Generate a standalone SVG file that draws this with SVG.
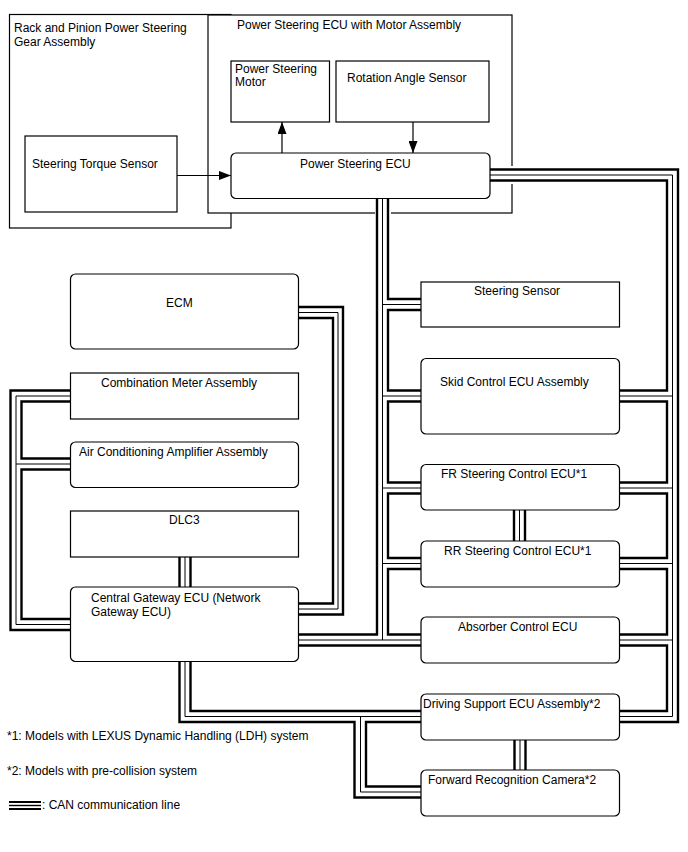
<svg xmlns="http://www.w3.org/2000/svg" width="688" height="852" viewBox="0 0 688 852">
<style>
text { font-family: "Liberation Sans", Arial, sans-serif; font-size: 12px; fill: #000; }
.box { fill: #fff; stroke: #000; stroke-width: 1.2; }
.ct { fill: none; stroke: #000; stroke-width: 2.4; }
.cn { fill: none; stroke: #000; stroke-width: 1; }
.arr { fill: none; stroke: #000; stroke-width: 1.2; marker-end: url(#ah); }
.gap { fill: #fff; stroke: none; }
</style>
<defs>
<marker id="ah" markerUnits="userSpaceOnUse" markerWidth="12" markerHeight="9" refX="12" refY="4.5" orient="auto"><path d="M0,0 L12,4.5 L0,9 z" fill="#000"/></marker>
</defs>
<rect x="0" y="0" width="688" height="852" fill="#fff"/>

<g id="rack-pinion-gear-assembly">
<rect class="box" x="9.5" y="14.5" width="221.5" height="213.5"/>
<text x="14" y="32">Rack and Pinion Power Steering</text>
<text x="14" y="46">Gear Assembly</text>
</g>
<g id="ps-ecu-motor-assembly">
<rect class="box" x="208" y="15" width="304" height="198"/>
<text x="237" y="29">Power Steering ECU with Motor Assembly</text>
</g>
<g id="steering-torque-sensor">
<rect class="box" x="25" y="136" width="152" height="76"/>
<text x="32" y="168">Steering Torque Sensor</text>
</g>
<g id="power-steering-motor">
<rect class="box" x="231" y="61" width="98.5" height="61"/>
<text x="235" y="72.5">Power Steering</text>
<text x="235" y="86">Motor</text>
</g>
<g id="rotation-angle-sensor">
<rect class="box" x="336" y="61" width="153" height="61"/>
<text x="347" y="82">Rotation Angle Sensor</text>
</g>
<g id="power-steering-ecu">
<rect class="box" x="231" y="153" width="259" height="45.5" rx="5"/>
<text x="300" y="168">Power Steering ECU</text>
</g>

<g id="arrows">
<line class="arr" x1="177" y1="175.5" x2="231" y2="175.5"/>
<line class="arr" x1="282" y1="153" x2="282" y2="122"/>
<line class="arr" x1="413" y1="122" x2="413" y2="153"/>
</g>

<g id="can-lines">
<rect class="gap" x="507" y="166" width="10" height="18"/>
<rect class="gap" x="375" y="209" width="16" height="8"/>
<!-- right column, left bus -->
<path class="ct" d="M377,198.5 V634.5 H299"/>
<path class="ct" d="M388,198.5 V299 H421"/>
<path class="ct" d="M421,310 H388 V390.5 H421"/>
<path class="ct" d="M421,401.5 H388 V482.5 H421"/>
<path class="ct" d="M421,493.5 H388 V558 H421"/>
<path class="ct" d="M421,569 H388 V634.5 H421"/>
<path class="ct" d="M299,645.5 H421"/>
<path class="cn" d="M382.5,198.5 V640 M299,640 H421 M382.5,304.5 H421 M382.5,396 H421 M382.5,488 H421 M382.5,563.5 H421"/>
<!-- right column, right bus -->
<path class="ct" d="M490,169.5 H678 V722 H620"/>
<path class="ct" d="M490,180.5 H667 V390.5 H620"/>
<path class="ct" d="M620,401.5 H667 V482.5 H620"/>
<path class="ct" d="M620,493.5 H667 V558 H620"/>
<path class="ct" d="M620,569 H667 V634.5 H620"/>
<path class="ct" d="M620,645.5 H667 V711 H620"/>
<path class="cn" d="M490,175 H672.5 V716.5 H620 M672.5,396 H620 M672.5,488 H620 M672.5,563.5 H620 M672.5,640 H620"/>
<!-- FR - RR -->
<path class="ct" d="M514,510 V541 M525,510 V541"/>
<path class="cn" d="M519.5,510 V541"/>
<!-- left bus -->
<path class="ct" d="M70,390.5 H10.5 V630 H70"/>
<path class="ct" d="M70,401.5 H21.5 V458.5 H70"/>
<path class="ct" d="M70,469.5 H21.5 V619 H70"/>
<path class="cn" d="M70,396 H16 V624.5 H70 M16,464 H70"/>
<!-- ECM - CG -->
<path class="ct" d="M299,307 H343 V614.5 H299"/>
<path class="ct" d="M299,318 H333 V603.5 H299"/>
<path class="cn" d="M299,312.5 H338 V609 H299"/>
<!-- DLC3 - CG -->
<path class="ct" d="M179.5,557 V587 M190.5,557 V587"/>
<path class="cn" d="M185,557 V587"/>
<!-- CG - DS - FRC -->
<path class="ct" d="M179.5,661.5 V722 H354.5 V797.5 H421"/>
<path class="ct" d="M190.5,661.5 V711 H421"/>
<path class="ct" d="M421,722 H366 V786.5 H421"/>
<path class="cn" d="M185,661.5 V716.5 H421 M360.5,716.5 V792 H421"/>
<!-- DS - FRC -->
<path class="ct" d="M514.5,740 V770 M525.5,740 V770"/>
<path class="cn" d="M520,740 V770"/>
</g>

<g id="ecm">
<rect class="box" x="70.5" y="274" width="228" height="75" rx="5"/>
<text x="166" y="307">ECM</text>
</g>
<g id="combination-meter">
<rect class="box" x="70.5" y="373" width="228" height="46"/>
<text x="101" y="387">Combination Meter Assembly</text>
</g>
<g id="ac-amplifier">
<rect class="box" x="70.5" y="442" width="228" height="45.5" rx="5"/>
<text x="79" y="456">Air Conditioning Amplifier Assembly</text>
</g>
<g id="dlc3">
<rect class="box" x="70.5" y="511" width="228" height="46"/>
<text x="169" y="524">DLC3</text>
</g>
<g id="central-gateway-ecu">
<rect class="box" x="70.5" y="587" width="228" height="74.5" rx="5"/>
<text x="91" y="602">Central Gateway ECU (Network</text>
<text x="91" y="616">Gateway ECU)</text>
</g>

<g id="steering-sensor">
<rect class="box" x="421" y="282" width="198.5" height="45"/>
<text x="474" y="295">Steering Sensor</text>
</g>
<g id="skid-control-ecu">
<rect class="box" x="421" y="358.5" width="198.5" height="75.5" rx="5"/>
<text x="440" y="386">Skid Control ECU Assembly</text>
</g>
<g id="fr-steering-control-ecu">
<rect class="box" x="421" y="464.5" width="198.5" height="45.5" rx="5"/>
<text x="441" y="478">FR Steering Control ECU*1</text>
</g>
<g id="rr-steering-control-ecu">
<rect class="box" x="421" y="541" width="198.5" height="46" rx="5"/>
<text x="444" y="555">RR Steering Control ECU*1</text>
</g>
<g id="absorber-control-ecu">
<rect class="box" x="421" y="617" width="198.5" height="46" rx="5"/>
<text x="458" y="631">Absorber Control ECU</text>
</g>
<g id="driving-support-ecu">
<rect class="box" x="421" y="694" width="198.5" height="46" rx="5"/>
<text x="423" y="708">Driving Support ECU Assembly*2</text>
</g>
<g id="forward-recognition-camera">
<rect class="box" x="421" y="770" width="198.5" height="46" rx="5"/>
<text x="428" y="784">Forward Recognition Camera*2</text>
</g>

<g id="notes">
<text x="7" y="740">*1: Models with LEXUS Dynamic Handling (LDH) system</text>
<text x="7" y="775">*2: Models with pre-collision system</text>
<path d="M9,802 H41 M9,809 H41" stroke="#000" stroke-width="2.2" fill="none"/>
<path d="M9,805.5 H41" stroke="#000" stroke-width="1.4" fill="none"/>
<text x="42" y="809">: CAN communication line</text>
</g>
</svg>
